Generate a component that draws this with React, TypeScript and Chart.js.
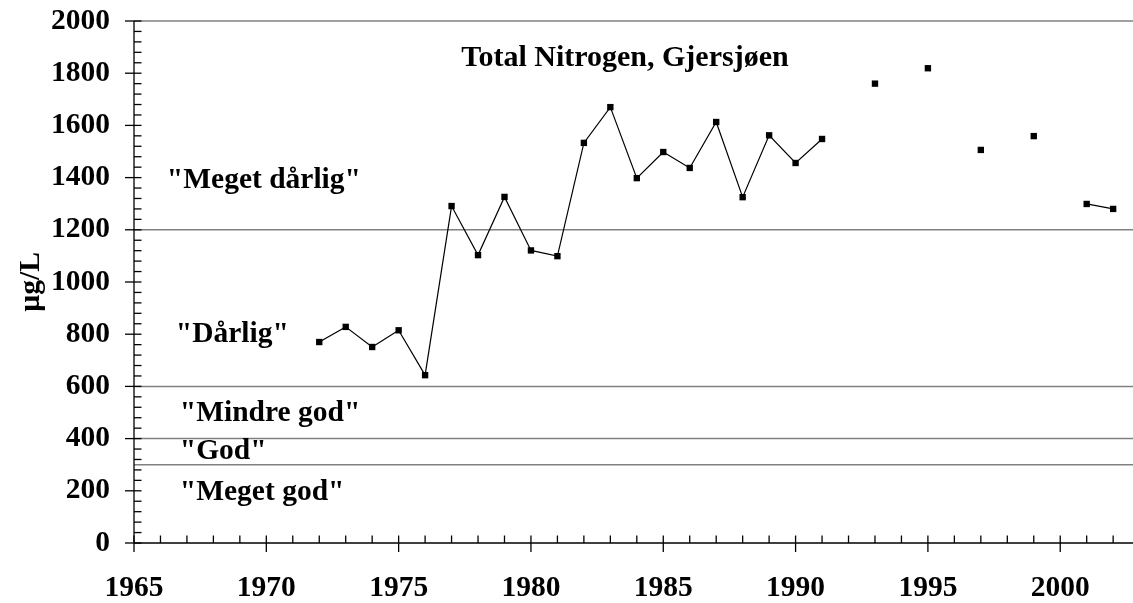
import React, { useEffect, useRef } from 'react';
import { Chart, registerables } from 'chart.js';

Chart.register(...registerables);

// ---- data ----
const years = [
  1972, 1973, 1974, 1975, 1976, 1977, 1978, 1979, 1980, 1981,
  1982, 1983, 1984, 1985, 1986, 1987, 1988, 1989, 1990, 1991,
  1992, 1993, 1994, 1995, 1996, 1997, 1998, 1999, 2000, 2001, 2002,
];
const nitrogen: (number | null)[] = [
  770, 828, 751, 815, 643, 1291, 1103, 1326, 1121, 1099,
  1533, 1670, 1398, 1498, 1437, 1613, 1325, 1562, 1456, 1548,
  null, 1760, null, 1819, null, 1506, null, 1559, null, 1299, 1280,
];
const xTickYears = [1965, 1970, 1975, 1980, 1985, 1990, 1995, 2000];
const yTickValues = [0, 200, 400, 600, 800, 1000, 1200, 1400, 1600, 1800, 2000];
const thresholds = [1200, 600, 400, 300];
const zoneLabels = ['"Meget dårlig"', '"Dårlig"', '"Mindre god"', '"God"', '"Meget god"'];
const titleText = 'Total Nitrogen, Gjersjøen';
const yAxisTitle = 'µg/L';

// ---- layout / style ----
const X_MIN = 1965;
const X_MAX = 2002.75;
const Y_MIN = 0;
const Y_MAX = 2000;
const FAMILY = '"Liberation Serif", "Times New Roman", Times, serif';
const FONT_SIZE = 29.5;
const TITLE_SIZE = 30;
const GRAY = '#808080';
// label anchors (left x, baseline y) in data units
const zoneAnchorX = [1966.24, 1966.58, 1966.73, 1966.73, 1966.73];
const zoneAnchorY = [1362, 770, 467, 323, 164];
const titleAnchor = { x: 1983.55, y: 1826 };

const decorPlugin = {
  id: 'decor',
  afterDraw(chart: any) {
    const { ctx, chartArea, scales } = chart;
    const { left, right, top, bottom } = chartArea;
    const xs = scales.x;
    const ys = scales.y;
    const line = (x1: number, y1: number, x2: number, y2: number) => {
      ctx.beginPath();
      ctx.moveTo(x1, y1);
      ctx.lineTo(x2, y2);
      ctx.stroke();
    };
    ctx.save();
    // top border at Y_MAX
    ctx.strokeStyle = GRAY;
    ctx.lineWidth = 1.5;
    const yTop = ys.getPixelForValue(Y_MAX);
    line(left, yTop, right, yTop);

    // axes
    ctx.strokeStyle = '#000';
    ctx.lineWidth = 1.3;
    line(left, top, left, bottom);
    line(left, bottom, right, bottom);

    // y ticks (major every 200, minor every 40)
    for (let v = Y_MIN; v <= Y_MAX; v += 40) {
      const py = ys.getPixelForValue(v);
      const major = v % 200 === 0;
      line(major ? left - 9 : left, py, left + 7.5, py);
    }
    // x ticks (major every 5 years, minor every year)
    for (let yr = X_MIN; yr <= Math.floor(X_MAX); yr += 1) {
      const px = xs.getPixelForValue(yr);
      const major = yr % 5 === 0;
      line(px, bottom - 7.5, px, major ? bottom + 9 : bottom);
    }

    // texts
    ctx.fillStyle = '#000';
    ctx.font = `bold ${FONT_SIZE}px ${FAMILY}`;
    ctx.textAlign = 'left';
    ctx.textBaseline = 'alphabetic';
    zoneLabels.forEach((t, i) => {
      ctx.fillText(t, xs.getPixelForValue(zoneAnchorX[i]), ys.getPixelForValue(zoneAnchorY[i]));
    });
    ctx.font = `bold ${TITLE_SIZE}px ${FAMILY}`;
    ctx.textAlign = 'center';
    ctx.fillText(titleText, xs.getPixelForValue(titleAnchor.x), ys.getPixelForValue(titleAnchor.y));
    ctx.restore();
  },
};

export default function App() {
  const canvasRef = useRef<HTMLCanvasElement | null>(null);

  useEffect(() => {
    const canvas = canvasRef.current;
    if (!canvas) return;
    const font = { family: FAMILY, size: FONT_SIZE, weight: 'bold' as const };
    const chart = new Chart(canvas, {
      type: 'line',
      data: {
        datasets: [
          {
            label: 'Total N',
            data: years.map((yr, i) => ({ x: yr, y: nitrogen[i] })) as any,
            borderColor: '#000',
            backgroundColor: '#000',
            borderWidth: 1.2,
            pointStyle: 'rect',
            pointRadius: 4.5,
            pointBorderWidth: 0,
            pointBackgroundColor: '#000',
            spanGaps: false,
            tension: 0,
          },
          ...thresholds.map((t) => ({
            label: 'limit ' + t,
            data: [
              { x: X_MIN, y: t },
              { x: X_MAX, y: t },
            ],
            borderColor: GRAY,
            borderWidth: 1.5,
            pointRadius: 0,
            tension: 0,
          })),
        ],
      },
      options: {
        responsive: false,
        animation: false,
        layout: { autoPadding: false, padding: { top: 21, right: 0, left: 0, bottom: 0 } },
        plugins: {
          legend: { display: false },
          tooltip: { enabled: false },
          title: { display: false },
        },
        scales: {
          x: {
            type: 'linear',
            min: X_MIN,
            max: X_MAX,
            grid: { display: false, drawTicks: false },
            border: { display: false },
            ticks: {
              font,
              color: '#000',
              padding: 28,
              maxRotation: 0,
              autoSkip: false,
              callback: (v: any) => String(v),
            },
            afterBuildTicks: (s: any) => {
              s.ticks = xTickYears.map((v) => ({ value: v }));
            },
            afterFit: (s: any) => {
              s.height = 60;
              s.paddingLeft = 0;
              s.paddingRight = 0;
              s.paddingTop = 0;
              s.paddingBottom = 0;
            },
          },
          y: {
            type: 'linear',
            min: Y_MIN,
            max: Y_MAX,
            grid: { display: false, drawTicks: false },
            border: { display: false },
            ticks: {
              font,
              color: '#000',
              padding: 24,
              autoSkip: false,
              callback: (v: any) => String(v),
            },
            afterBuildTicks: (s: any) => {
              s.ticks = yTickValues.map((v) => ({ value: v }));
            },
            afterFit: (s: any) => {
              s.width = 134;
              s.paddingLeft = 0;
              s.paddingRight = 0;
              s.paddingTop = 0;
              s.paddingBottom = 0;
            },
            title: {
              display: true,
              text: yAxisTitle,
              font,
              color: '#000',
              padding: { top: 14, bottom: 0 },
            },
          },
        },
      },
      plugins: [decorPlugin],
    });
    return () => chart.destroy();
  }, []);

  return (
    <div style={{ position: 'fixed', left: 0, top: 0, width: 1133, height: 603, background: '#fff' }}>
      <canvas ref={canvasRef} width={1133} height={603} style={{ display: 'block', width: 1133, height: 603 }} />
    </div>
  );
}
